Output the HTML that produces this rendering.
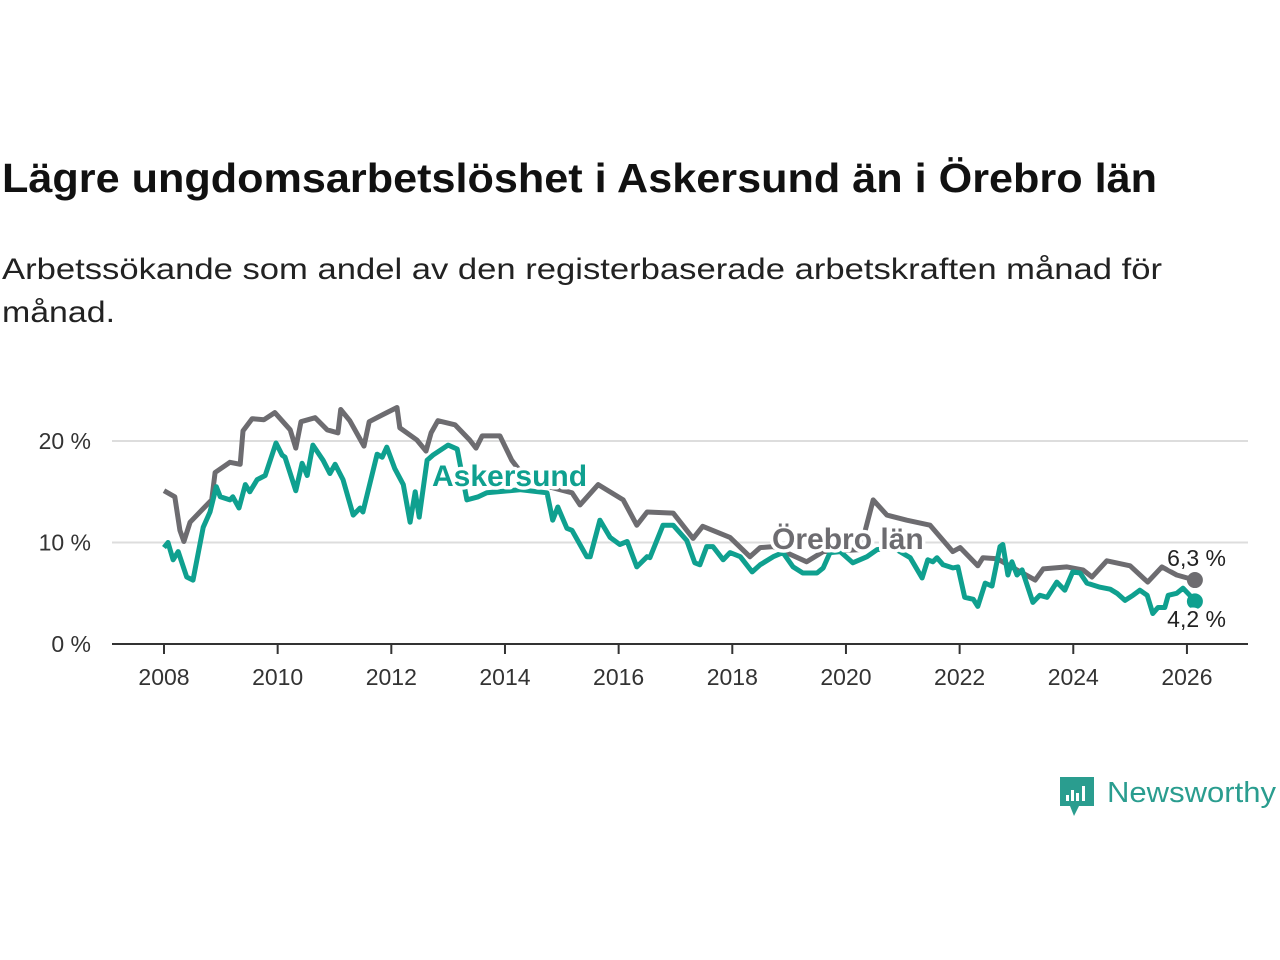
<!DOCTYPE html>
<html><head><meta charset="utf-8"><style>
body{margin:0;background:#fff;font-family:"Liberation Sans",sans-serif;}
svg{display:block}
</style></head><body>
<svg width="1280" height="960" viewBox="0 0 1280 960">
<text x="2" y="192" font-size="41" font-weight="bold" fill="#111" textLength="1155" lengthAdjust="spacingAndGlyphs">Lägre ungdomsarbetslöshet i Askersund än i Örebro län</text>
<text x="2" y="279" font-size="30" fill="#222" textLength="1160" lengthAdjust="spacingAndGlyphs">Arbetssökande som andel av den registerbaserade arbetskraften månad för</text>
<text x="2" y="322" font-size="30" fill="#222" textLength="113" lengthAdjust="spacingAndGlyphs">månad.</text>
<g id="grid"></g>
<g id="xaxis"></g>
<g id="series"></g>
<g id="labels"></g>
<g>
<path d="M1060 777 h34 v29 h-15 l-5 10 l-4 -10 h-10 z" fill="#2a9d8f"/>
<rect x="1066" y="795" width="3" height="6" fill="#fff"/><rect x="1071" y="790" width="3" height="11" fill="#fff"/><rect x="1076" y="793" width="3" height="8" fill="#fff"/><rect x="1082" y="786" width="3" height="15" fill="#fff"/>
<text x="1107" y="802" font-size="29" fill="#2a9d8f" textLength="169" lengthAdjust="spacingAndGlyphs">Newsworthy</text>
</g>
</svg>
<script>
const yTicks=[0,10,20];
const xTicks=[2008,2010,2012,2014,2016,2018,2020,2022,2024,2026];
const orebroYears=[2008.00,2008.19,2008.28,2008.35,2008.46,2008.70,2008.84,2008.90,2009.16,2009.34,2009.39,2009.55,2009.76,2009.95,2010.22,2010.32,2010.41,2010.66,2010.87,2011.06,2011.11,2011.27,2011.52,2011.61,2011.92,2012.10,2012.15,2012.45,2012.61,2012.70,2012.82,2013.12,2013.38,2013.49,2013.60,2013.91,2014.12,2014.35,2014.56,2015.18,2015.32,2015.64,2016.08,2016.32,2016.50,2016.96,2017.31,2017.48,2017.96,2018.31,2018.49,2018.72,2019.31,2019.60,2020.25,2020.48,2020.72,2021.07,2021.48,2021.88,2022.01,2022.32,2022.41,2022.66,2023.01,2023.33,2023.47,2023.89,2024.17,2024.33,2024.59,2025.00,2025.31,2025.56,2025.82,2026.14];
const orebroValues=[15.1,14.5,11.2,10.1,12.0,13.4,14.2,16.9,17.9,17.7,21.0,22.2,22.1,22.8,21.1,19.3,21.9,22.3,21.1,20.8,23.1,22.0,19.5,21.9,22.8,23.3,21.3,20.1,19.0,20.8,22.0,21.6,20.1,19.3,20.5,20.5,18.1,16.4,15.8,14.9,13.7,15.7,14.2,11.7,13.0,12.9,10.4,11.6,10.5,8.6,9.5,9.6,8.1,9.1,9.3,14.2,12.7,12.2,11.7,9.1,9.5,7.7,8.5,8.4,7.3,6.3,7.4,7.6,7.3,6.6,8.2,7.7,6.1,7.6,6.8,6.3];
const askYears=[2008.00,2008.07,2008.16,2008.25,2008.40,2008.51,2008.69,2008.81,2008.92,2008.99,2009.16,2009.21,2009.32,2009.43,2009.51,2009.64,2009.78,2009.97,2010.08,2010.13,2010.32,2010.43,2010.52,2010.62,2010.80,2010.92,2011.01,2011.15,2011.33,2011.45,2011.50,2011.75,2011.84,2011.92,2012.06,2012.21,2012.33,2012.42,2012.49,2012.63,2012.73,2013.00,2013.16,2013.33,2013.53,2013.68,2014.26,2014.74,2014.84,2014.93,2015.09,2015.18,2015.44,2015.50,2015.67,2015.85,2016.02,2016.15,2016.32,2016.50,2016.55,2016.78,2016.96,2017.20,2017.34,2017.43,2017.55,2017.66,2017.84,2017.96,2018.14,2018.35,2018.49,2018.72,2018.89,2019.07,2019.24,2019.49,2019.60,2019.72,2019.90,2020.12,2020.37,2020.55,2020.83,2021.13,2021.34,2021.44,2021.53,2021.60,2021.71,2021.88,2021.97,2022.09,2022.24,2022.32,2022.45,2022.57,2022.71,2022.76,2022.85,2022.92,2023.01,2023.10,2023.29,2023.41,2023.54,2023.71,2023.85,2023.99,2024.12,2024.24,2024.47,2024.65,2024.77,2024.91,2025.05,2025.17,2025.30,2025.40,2025.49,2025.61,2025.67,2025.82,2025.93,2026.05,2026.14];
const askValues=[9.5,10.0,8.3,9.1,6.6,6.3,11.5,13.0,15.5,14.5,14.2,14.5,13.4,15.7,15.0,16.2,16.6,19.8,18.6,18.4,15.1,17.8,16.6,19.6,18.1,16.8,17.7,16.2,12.7,13.4,13.0,18.7,18.4,19.4,17.3,15.7,12.0,15.0,12.5,18.1,18.6,19.6,19.2,14.2,14.5,14.9,15.2,14.9,12.2,13.5,11.4,11.2,8.6,8.6,12.2,10.5,9.8,10.1,7.6,8.6,8.5,11.7,11.7,10.2,8.0,7.8,9.6,9.6,8.3,9.0,8.6,7.1,7.8,8.6,9.0,7.6,7.0,7.0,7.5,9.0,9.1,8.0,8.6,9.3,9.5,8.5,6.5,8.3,8.1,8.5,7.8,7.5,7.6,4.6,4.4,3.7,6.0,5.7,9.6,9.8,6.8,8.1,6.8,7.3,4.1,4.8,4.6,6.1,5.3,7.1,7.0,6.0,5.6,5.4,5.0,4.3,4.8,5.3,4.8,3.0,3.6,3.6,4.8,5.0,5.5,4.8,4.2];
const NS="http://www.w3.org/2000/svg";
const xS=y=>164+(y-2008)*56.83;
const yS=v=>644-v*10.15;
function mk(tag,attrs,parent){const e=document.createElementNS(NS,tag);for(const k in attrs)e.setAttribute(k,attrs[k]);parent.appendChild(e);return e;}
const grid=document.getElementById('grid');
yTicks.forEach(t=>{
  if(t>0){const l=mk('line',{x1:112,x2:1248,y1:yS(t),y2:yS(t),stroke:'#ddd','stroke-width':2},grid);
  
  }
  const tx=mk('text',{x:91,y:yS(t)+8,'font-size':23,'text-anchor':'end',fill:'#333'},grid);
  tx.textContent=t+' %';
  
  
});
const xa=document.getElementById('xaxis');
const axl=mk('line',{x1:112,x2:1248,y1:644,y2:644,stroke:'#333','stroke-width':2},xa);


xTicks.forEach(t=>{
  const tk=mk('line',{x1:xS(t),x2:xS(t),y1:644,y2:654,stroke:'#333','stroke-width':2},xa);
  
  
  const tx=mk('text',{x:xS(t),y:685,'font-size':23,'text-anchor':'middle',fill:'#333'},xa);
  tx.textContent=t;
  
  
});
const sg=document.getElementById('series');
function line(ys,vs,color,name){
  const d=ys.map((y,i)=>(i?'L':'M')+xS(y).toFixed(1)+' '+yS(vs[i]).toFixed(1)).join(' ');
  const p=mk('path',{d:d,fill:'none',stroke:color,'stroke-width':5,'stroke-linejoin':'round'},sg);
  
  
  const n=ys.length-1;
  const c=mk('circle',{cx:xS(ys[n]),cy:yS(vs[n]),r:8,fill:color},sg);
  
  
}
line(orebroYears,orebroValues,'#6d6c70','orebro');
line(askYears,askValues,'#0fa08f','askersund');
const lg=document.getElementById('labels');
function lab(x,y,txt,color,size,bold,anchor,name){
  const h=mk('text',{x:x,y:y,'font-size':size,'font-weight':bold?'bold':'normal','text-anchor':anchor,fill:'#fff',stroke:'#fff','stroke-width':7,'stroke-linejoin':'round'},lg);
  h.textContent=txt;
  
  
  const t=mk('text',{x:x,y:y,'font-size':size,'font-weight':bold?'bold':'normal','text-anchor':anchor,fill:color},lg);
  t.textContent=txt;
  
  
}
lab(432,486,'Askersund','#0fa08f',30,true,'start','askersund-label');
lab(772,549,'Örebro län','#6d6c70',30,true,'start','orebro-label');
lab(1226,566,'6,3 %','#222',23,false,'end','orebro-end-value');
lab(1226,627,'4,2 %','#222',23,false,'end','askersund-end-value');
</script>
</body></html>
